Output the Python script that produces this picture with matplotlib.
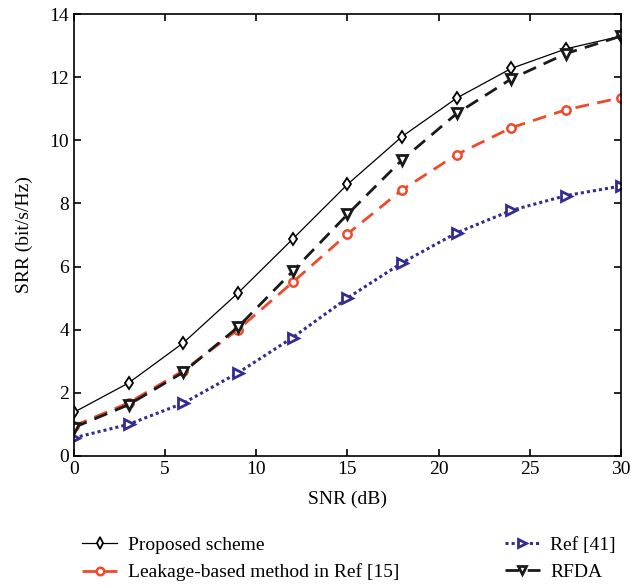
import matplotlib.pyplot as plt

plt.rcParams['font.family'] = ['Liberation Serif', 'DejaVu Serif']

snr = [0, 3, 6, 9, 12, 15, 18, 21, 24, 27, 30]
proposed = [1.38, 2.31, 3.58, 5.16, 6.87, 8.6, 10.12, 11.34, 12.28, 12.9, 13.3]
leakage = [0.95, 1.68, 2.7, 4.0, 5.5, 7.03, 8.43, 9.55, 10.4, 10.97, 11.35]
ref41 = [0.57, 1.0, 1.67, 2.63, 3.75, 5.0, 6.12, 7.07, 7.78, 8.25, 8.55]
rfda = [0.9, 1.62, 2.65, 4.08, 5.85, 7.65, 9.38, 10.85, 11.95, 12.75, 13.3]

fig = plt.figure(figsize=(6.31, 5.86), dpi=100)
ax = fig.add_axes([0.117, 0.222, 0.867, 0.754])

ax.plot(snr, proposed, color="black", lw=0.9, marker="d", ms=6.5,
        mfc="white", mec="black", mew=1.3, label="Proposed scheme")
ax.plot(snr, leakage, color="#ee4a2c", lw=2, ls=(0, (5, 3)), marker="o", ms=6,
        mfc="white", mec="#ee4a2c", mew=1.8, label="Leakage-based method in Ref [15]")
ax.plot(snr, ref41, color="#332d91", lw=2.2, ls=(0, (1, 1)), marker=">", ms=7,
        mfc="white", mec="#332d91", mew=2, label="Ref [41]")
ax.plot(snr, rfda, color="#1a1a1a", lw=2, ls=(0, (5, 3)), marker="v", ms=7,
        mfc="white", mec="#1a1a1a", mew=2, label="RFDA")

ax.set_xlim(0, 30)
ax.set_ylim(0, 14)
ax.set_xticks([0, 5, 10, 15, 20, 25, 30])
ax.set_yticks([0, 2, 4, 6, 8, 10, 12, 14])
ax.tick_params(direction="in", top=True, right=True, labelsize=14, length=5, width=1.2)
for s in ax.spines.values():
    s.set_linewidth(1.2)
ax.set_xlabel("SNR (dB)", fontsize=14, labelpad=9)
ax.set_ylabel("SRR (bit/s/Hz)", fontsize=14, labelpad=12)

fig.legend(loc="lower left", bbox_to_anchor=(0.103, -0.022), ncol=2, frameon=False,
           fontsize=14, handlelength=1.8, handletextpad=0.55, columnspacing=5.4,
           labelspacing=0.5, markerscale=0.9)

fig.savefig("out.png", dpi=100)
